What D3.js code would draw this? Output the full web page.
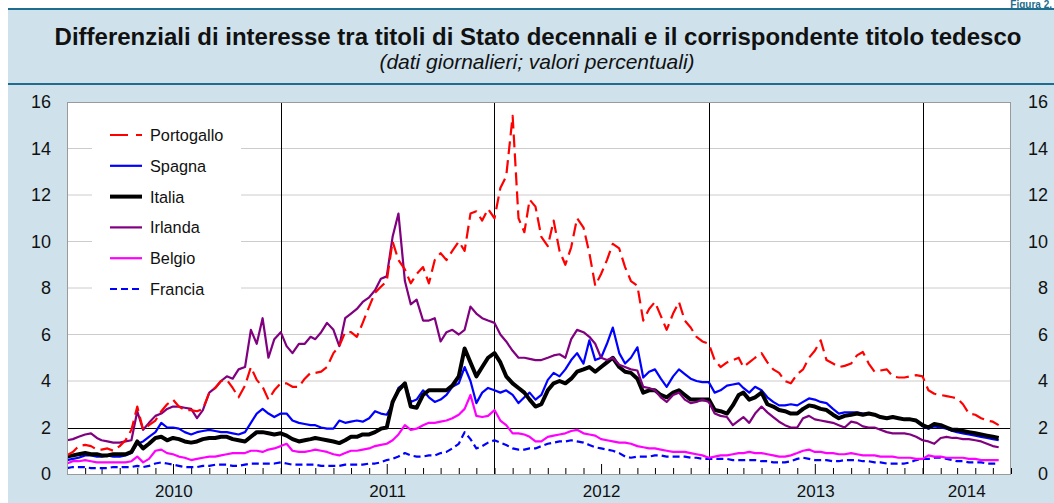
<!DOCTYPE html>
<html>
<head>
<meta charset="utf-8">
<script src="https://cdn.jsdelivr.net/npm/d3@7"></script>
<style>
  body { margin: 0; background: #fff; }
  svg { display: block; font-family: "Liberation Sans", Arial, Helvetica, sans-serif; }
</style>
</head>
<body>
<div id="chart"></div>
<script>
// spread vs Bund, 10y, values read at 1st / 11th / 21st of each month
const series = ["Portogallo", "Spagna", "Italia", "Irlanda", "Belgio", "Francia"];
const years = ["2010", "2011", "2012", "2013", "2014"];
const yTicks = [0, 2, 4, 6, 8, 10, 12, 14, 16];
const sampleDays = [1, 11, 21];

const portogallo = [
  0.8,0.95,1.2, 1.25,1.2,1.05, 1.05,1.1,1.0, 1.2,1.45,1.9, 2.9,1.9,2.1, 2.3,2.7,3.0, 3.2,2.9,2.75, 2.75,2.7,2.8, 3.5,3.7,4.0, 4.05,3.7,3.3, 3.8,4.6,4.05, 3.75,3.2,3.6,
  3.9,3.9,3.75, 3.75,4.1,4.35, 4.35,4.4,4.6, 5.2,5.5,6.1, 6.1,5.9,6.5, 7.2,7.8,8.05, 8.3,10.0,9.2, 8.8,8.2,8.6, 8.9,8.2,9.2, 9.5,9.2,9.6, 10.0,9.6,11.2, 11.3,10.9,11.4,
  11.0,12.3,12.8, 15.4,11.0,10.4, 11.8,11.5,10.2, 9.8,10.9,9.6, 9.0,9.75,11.0, 10.6,9.5,8.1, 8.6,9.2,9.9, 9.7,8.9,8.3, 8.1,6.6,7.1, 7.4,6.8,6.2, 6.9,7.4,6.6, 6.3,5.9,5.7,
  5.6,4.9,4.6, 4.8,4.9,5.0, 4.6,4.8,5.0, 5.2,4.8,4.5, 4.35,4.0,3.9, 4.3,4.5,5.0, 5.3,5.75,4.9, 4.75,4.6,4.65, 4.75,5.1,5.25, 4.75,4.4,4.45, 4.5,4.2,4.15, 4.15,4.2,4.25,
  4.2,3.6,3.45, 3.4,3.35,3.3, 3.25,3.0,2.6, 2.55,2.4,2.3, 2.25,2.1
];
const spagna = [
  0.6,0.65,0.7, 0.8,0.8,0.75, 0.75,0.8,0.75, 0.75,0.8,0.9, 1.3,1.4,1.6, 1.8,2.2,2.0, 2.0,1.95,1.8, 1.7,1.8,1.85, 1.9,1.85,1.8, 1.8,1.75,1.7, 1.8,2.2,2.6, 2.8,2.6,2.45,
  2.6,2.6,2.3, 2.2,2.15,2.1, 2.1,2.0,1.95, 1.95,2.3,2.2, 2.25,2.3,2.25, 2.4,2.7,2.6, 2.55,3.0,3.7, 3.9,3.1,3.2, 3.6,3.3,3.1, 3.2,3.4,3.75, 3.9,4.6,4.0, 3.05,3.5,3.7,
  3.6,3.5,3.6, 3.4,3.05,3.3, 3.5,3.2,3.4, 4.05,4.35,4.2, 4.5,4.9,5.2, 4.75,5.75,4.9, 5.0,5.6,6.3, 5.2,4.75,5.0, 5.45,4.15,4.4, 4.5,4.1,3.75, 4.2,4.5,4.3, 4.1,4.0,3.95,
  3.95,3.5,3.6, 3.8,3.85,3.9, 3.7,3.5,3.75, 3.6,3.3,3.1, 2.95,2.95,3.0, 2.95,3.1,3.25, 3.2,3.1,3.05, 2.8,2.6,2.65, 2.65,2.65,2.6, 2.6,2.55,2.45, 2.4,2.45,2.4, 2.35,2.35,2.3,
  2.05,1.95,2.05, 2.0,1.95,1.85, 1.8,1.75,1.7, 1.65,1.6,1.55, 1.5,1.45
];
const italia = [
  0.75,0.8,0.85, 0.9,0.85,0.85, 0.8,0.8,0.85, 0.85,0.85,0.95, 1.4,1.1,1.3, 1.55,1.6,1.45, 1.55,1.5,1.4, 1.35,1.4,1.5, 1.55,1.55,1.6, 1.6,1.5,1.45, 1.4,1.6,1.8, 1.8,1.75,1.7,
  1.75,1.65,1.5, 1.4,1.45,1.5, 1.55,1.5,1.45, 1.4,1.33,1.45, 1.6,1.6,1.7, 1.7,1.8,1.95, 2.0,3.1,3.6, 3.9,2.9,2.85, 3.4,3.6,3.6, 3.6,3.6,3.8, 4.2,5.4,4.8, 4.2,4.6,5.0,
  5.2,4.8,4.2, 3.9,3.7,3.5, 3.2,2.9,3.0, 3.6,3.9,4.0, 3.9,4.1,4.4, 4.5,4.6,4.4, 4.6,4.8,5.0, 4.6,4.4,4.35, 4.1,3.5,3.6, 3.6,3.4,3.3, 3.5,3.6,3.4, 3.2,3.2,3.2,
  3.2,2.75,2.7, 2.6,2.95,3.4, 3.5,3.2,3.3, 3.5,3.0,2.9, 2.75,2.7,2.6, 2.6,2.8,2.95, 2.9,2.8,2.75, 2.55,2.4,2.5, 2.55,2.6,2.55, 2.6,2.55,2.45, 2.4,2.45,2.4, 2.35,2.35,2.3,
  2.1,2.0,2.15, 2.1,2.0,1.9, 1.9,1.85,1.8, 1.75,1.7,1.65, 1.6,1.55
];
const irlanda = [
  1.45,1.5,1.6, 1.7,1.75,1.55, 1.45,1.4,1.35, 1.35,1.4,1.45, 2.7,1.9,2.2, 2.5,2.6,2.8, 2.9,2.9,2.85, 2.8,2.4,2.75, 3.5,3.7,4.0, 4.2,4.1,4.5, 4.6,6.2,5.6, 6.7,5.0,5.8,
  6.1,5.5,5.2, 5.6,5.6,5.9, 5.8,6.1,6.5, 6.2,5.5,6.7, 6.9,7.1,7.4, 7.6,7.9,8.4, 8.5,10.2,11.2, 8.3,7.3,7.5, 6.6,6.6,6.7, 5.7,6.1,6.2, 6.0,6.2,7.2, 6.9,6.7,6.6,
  6.5,6.0,5.7, 5.3,5.0,5.0, 4.95,4.9,4.9, 5.0,5.1,5.15, 5.0,5.8,6.2, 6.1,5.9,5.6, 5.0,4.9,5.0, 4.7,4.6,4.5, 4.45,3.75,3.7, 3.6,3.3,3.1, 3.4,3.5,3.2, 3.05,3.1,3.2,
  3.1,2.6,2.5, 2.45,2.1,2.3, 2.45,2.2,2.6, 2.9,2.65,2.45, 2.25,2.1,2.0, 2.0,2.4,2.5, 2.35,2.3,2.25, 2.2,2.1,2.0, 2.25,2.2,2.05, 2.0,2.0,1.9, 1.8,1.75,1.75, 1.75,1.7,1.6,
  1.45,1.4,1.3, 1.55,1.6,1.55, 1.55,1.5,1.5, 1.45,1.4,1.3, 1.2,1.15
];
const belgio = [
  0.45,0.55,0.55, 0.6,0.55,0.5, 0.5,0.5,0.5, 0.5,0.5,0.55, 0.75,0.5,0.65, 1.0,1.05,0.9, 0.85,0.75,0.7, 0.6,0.65,0.7, 0.75,0.75,0.8, 0.85,0.9,0.9, 0.9,1.0,1.0, 0.95,1.05,1.1,
  1.2,1.3,1.0, 0.95,0.95,1.0, 1.05,1.0,0.95, 0.85,0.8,0.9, 1.0,1.0,1.05, 1.1,1.2,1.25, 1.3,1.45,1.7, 2.1,1.9,1.95, 2.1,2.2,2.2, 2.25,2.3,2.4, 2.55,2.8,3.4, 2.5,2.45,2.5,
  2.75,2.3,2.1, 1.75,1.75,1.7, 1.6,1.4,1.4, 1.6,1.65,1.7, 1.75,1.85,1.9, 1.75,1.7,1.65, 1.5,1.45,1.4, 1.35,1.35,1.3, 1.2,1.15,1.1, 1.1,1.05,1.0, 0.95,0.95,0.95, 0.9,0.85,0.8,
  0.7,0.75,0.8, 0.8,0.85,0.9, 0.9,0.95,0.9, 0.9,0.85,0.8, 0.75,0.75,0.8, 0.9,1.0,1.05, 0.95,0.95,0.9, 0.9,0.85,0.85, 0.9,0.85,0.8, 0.8,0.8,0.75, 0.75,0.75,0.7, 0.7,0.7,0.65,
  0.65,0.8,0.75, 0.75,0.7,0.7, 0.7,0.7,0.65, 0.65,0.6,0.6, 0.6,0.6
];
const francia = [
  0.25,0.3,0.3, 0.3,0.25,0.25, 0.25,0.25,0.3, 0.3,0.3,0.3, 0.35,0.3,0.35, 0.45,0.5,0.45, 0.4,0.35,0.3, 0.3,0.3,0.35, 0.35,0.4,0.4, 0.4,0.35,0.35, 0.4,0.45,0.45, 0.45,0.45,0.45,
  0.5,0.45,0.4, 0.4,0.4,0.4, 0.4,0.35,0.35, 0.35,0.35,0.4, 0.4,0.4,0.4, 0.45,0.45,0.5, 0.6,0.65,0.75, 0.9,0.8,0.75, 0.75,0.8,0.8, 0.9,0.95,1.1, 1.3,1.8,1.5, 1.1,1.2,1.35,
  1.45,1.35,1.25, 1.1,1.05,1.05, 1.1,1.1,1.2, 1.3,1.35,1.4, 1.4,1.45,1.4, 1.35,1.25,1.15, 1.1,1.05,1.0, 0.9,0.75,0.7, 0.75,0.75,0.75, 0.8,0.8,0.75, 0.75,0.75,0.75, 0.7,0.7,0.65,
  0.65,0.65,0.65, 0.65,0.6,0.6, 0.6,0.6,0.6, 0.55,0.55,0.5, 0.5,0.5,0.55, 0.65,0.7,0.65, 0.6,0.6,0.6, 0.55,0.55,0.6, 0.6,0.6,0.55, 0.55,0.5,0.5, 0.45,0.45,0.45, 0.45,0.5,0.6,
  0.65,0.65,0.7, 0.7,0.65,0.6, 0.55,0.55,0.5, 0.5,0.5,0.45, 0.45,0.45
];

const values = { Portogallo: portogallo, Spagna: spagna, Italia: italia, Irlanda: irlanda, Belgio: belgio, Francia: francia };
const styles = {
  Portogallo: { color: "#ff0000", width: 2.2, dash: "13,6" },
  Spagna:     { color: "#0000ff", width: 2.2, dash: null },
  Italia:     { color: "#000000", width: 4,   dash: null },
  Irlanda:    { color: "#800080", width: 2.2, dash: null },
  Belgio:     { color: "#ff00ff", width: 2.2, dash: null },
  Francia:    { color: "#0000ff", width: 2.2, dash: "7,4" }
};
const drawOrder = ["Francia", "Belgio", "Spagna", "Italia", "Irlanda", "Portogallo"];

// sample dates
let dates = [];
d3.timeMonth.range(new Date(2010, 0, 1), new Date(2014, 5, 1)).forEach(m => {
  sampleDays.forEach(d => dates.push(new Date(m.getFullYear(), m.getMonth(), d)));
});
dates = dates.slice(0, portogallo.length);

const width = 1054, height = 503;
const plotL = 67, plotR = 1011, plotT = 102, plotB = 474;
const teal = "#1f6d8e";

const svg = d3.select("#chart").append("svg")
  .attr("width", width).attr("height", height);

// panel
svg.append("rect").attr("x", 8).attr("y", 9).attr("width", width - 8).attr("height", height - 9)
  .attr("fill", "#cfe2ec");
svg.append("line").attr("x1", 8).attr("x2", width).attr("y1", 9).attr("y2", 9)
  .attr("stroke", teal).attr("stroke-width", 2);
svg.append("line").attr("x1", 8).attr("x2", width).attr("y1", 84).attr("y2", 84)
  .attr("stroke", teal).attr("stroke-width", 2);
svg.append("text").attr("x", 1052).attr("y", 7.5).attr("text-anchor", "end")
  .attr("font-size", 10).attr("font-weight", "bold").attr("fill", teal).text("Figura 2.");

svg.append("text").attr("x", 538).attr("y", 45).attr("text-anchor", "middle")
  .attr("font-size", 24).attr("font-weight", "bold").attr("fill", "#111")
  .text("Differenziali di interesse tra titoli di Stato decennali e il corrispondente titolo tedesco");
svg.append("text").attr("x", 537).attr("y", 69).attr("text-anchor", "middle")
  .attr("font-size", 21).attr("font-style", "italic").attr("fill", "#111")
  .text("(dati giornalieri; valori percentuali)");

const x = d3.scaleTime().domain([new Date(2010, 0, 1), new Date(2014, 5, 1)]).range([plotL, plotR]);
const y = d3.scaleLinear().domain([0, 16]).range([plotB, plotT]);

// plot background
svg.append("rect").attr("x", plotL).attr("y", plotT).attr("width", plotR - plotL).attr("height", plotB - plotT)
  .attr("fill", "#fff");

// gridlines
svg.append("g").selectAll("line")
  .data(yTicks.filter(v => v > 2 && v < 16))
  .join("line")
  .attr("x1", plotL).attr("x2", plotR)
  .attr("y1", d => y(d)).attr("y2", d => y(d))
  .attr("stroke", "#cccccc").attr("stroke-width", 1);

// legend box (covers gridlines)
svg.append("rect").attr("x", 92).attr("y", 112).attr("width", 149).attr("height", 192).attr("fill", "#fff");

// year separators
svg.append("g").selectAll("line")
  .data(years.slice(1))
  .join("line")
  .attr("x1", d => Math.round(x(new Date(+d, 0, 1))) + 0.5)
  .attr("x2", d => Math.round(x(new Date(+d, 0, 1))) + 0.5)
  .attr("y1", plotT).attr("y2", plotB)
  .attr("stroke", "#000").attr("stroke-width", 1);

// line at 2
svg.append("line").attr("x1", plotL).attr("x2", plotR)
  .attr("y1", Math.round(y(2)) + 0.5).attr("y2", Math.round(y(2)) + 0.5)
  .attr("stroke", "#000").attr("stroke-width", 1);

// month ticks
const xAxis = svg.append("g").attr("transform", `translate(0,${plotB})`)
  .call(d3.axisBottom(x).ticks(d3.timeMonth.every(1)).tickSize(-6).tickFormat(""));
xAxis.select(".domain").remove();
xAxis.selectAll(".tick line")
  .attr("y2", d => d.getMonth() === 6 ? -10 : -6)
  .attr("stroke", "#000");

// series
svg.append("clipPath").attr("id", "plotclip")
  .append("rect").attr("x", plotL).attr("y", plotT).attr("width", plotR - plotL).attr("height", plotB - plotT);
const lines = svg.append("g").attr("clip-path", "url(#plotclip)");
drawOrder.forEach(name => {
  const st = styles[name];
  const line = d3.line().x((d, i) => x(dates[i])).y(d => y(d));
  lines.append("path")
    .datum(values[name])
    .attr("d", line)
    .attr("fill", "none")
    .attr("stroke", st.color)
    .attr("stroke-width", st.width)
    .attr("stroke-linejoin", "round")
    .attr("stroke-dasharray", st.dash);
});

// plot border
svg.append("rect").attr("x", plotL + 0.5).attr("y", plotT + 0.5)
  .attr("width", plotR - plotL - 1).attr("height", plotB - plotT)
  .attr("fill", "none").attr("stroke", "#9a9a9a").attr("stroke-width", 1);

// y axes
const yl = svg.append("g").attr("transform", `translate(${plotL},0)`)
  .call(d3.axisLeft(y).tickValues(yTicks).tickSize(0).tickPadding(16));
const yr = svg.append("g").attr("transform", `translate(${plotR},0)`)
  .call(d3.axisRight(y).tickValues(yTicks).tickSize(0).tickPadding(37));
[yl, yr].forEach(g => {
  g.attr("font-family", null).attr("font-size", null);
  g.select(".domain").remove();
  g.selectAll("text").attr("font-size", 18).attr("fill", "#111");
});
yr.selectAll("text").attr("text-anchor", "end");

// year labels
svg.append("g").selectAll("text")
  .data(years)
  .join("text")
  .attr("x", d => {
    const a = x(new Date(+d, 0, 1));
    const b = Math.min(x(new Date(+d + 1, 0, 1)), plotR);
    return (a + b) / 2;
  })
  .attr("y", 497)
  .attr("text-anchor", "middle")
  .attr("font-size", 17).attr("fill", "#111")
  .text(d => d);

// legend
const legend = svg.append("g");
series.forEach((name, i) => {
  const st = styles[name];
  const ly = 135 + i * 30.8;
  legend.append("line")
    .attr("x1", 110).attr("x2", 142).attr("y1", ly).attr("y2", ly)
    .attr("stroke", st.color).attr("stroke-width", st.width)
    .attr("stroke-dasharray", name === "Portogallo" ? "18,8" : st.dash);
  legend.append("text").attr("x", 150).attr("y", ly + 6)
    .attr("font-size", 16.3).attr("fill", "#111").text(name);
});
</script>
</body>
</html>
